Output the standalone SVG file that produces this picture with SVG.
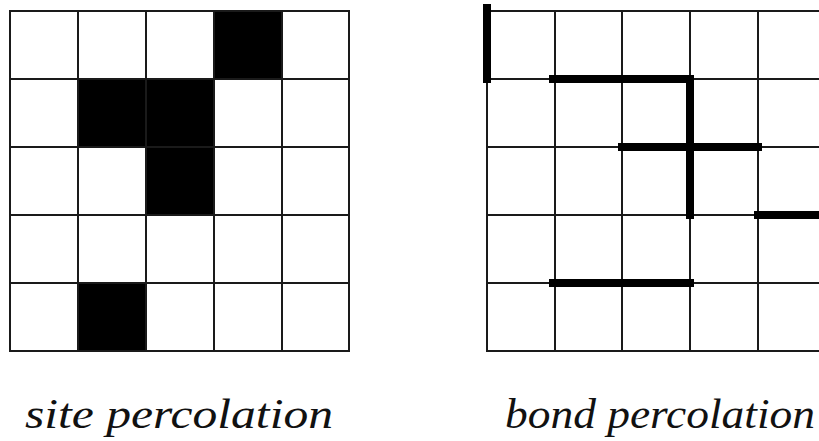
<svg xmlns="http://www.w3.org/2000/svg" width="819" height="441" viewBox="0 0 819 441">
<style>
.grid{fill:none;stroke:#1a1a1a;stroke-width:2}
.cell{fill:#000}
.bond{stroke:#000;stroke-width:8;stroke-linecap:square}
.lbl{font-family:"Liberation Serif",serif;font-style:italic;font-size:43px;fill:#111}
</style>
<rect width="819" height="441" fill="#fff"/>
<g id="site">
  <rect class="cell" x="214" y="11" width="68" height="68"/>
  <rect class="cell" x="78" y="79" width="136" height="68"/>
  <rect class="cell" x="146" y="147" width="68" height="68"/>
  <rect class="cell" x="78" y="283" width="68" height="68"/>
  <path class="grid" d="M10 11H349V351H10Z M78 11V351 M146 11V351 M214 11V351 M282 11V351 M10 79H349 M10 147H349 M10 215H349 M10 283H349"/>
  <text class="lbl" x="179" y="428" text-anchor="middle" textLength="308" lengthAdjust="spacingAndGlyphs">site percolation</text>
</g>
<g id="bond">
  <path class="grid" d="M487 11H830V351H487Z M555 11V351 M622 11V351 M690 11V351 M758 11V351 M487 79H830 M487 147H830 M487 215H830 M487 283H830"/>
  <text class="lbl" x="660" y="428" text-anchor="middle" textLength="310" lengthAdjust="spacingAndGlyphs">bond percolation</text>
</g>
<g id="connectors">
  <line class="bond" x1="487" y1="8" x2="487" y2="79"/>
  <line class="bond" x1="553" y1="79" x2="690" y2="79"/>
  <line class="bond" x1="690" y1="79" x2="690" y2="215"/>
  <line class="bond" x1="622" y1="147" x2="758" y2="147"/>
  <line class="bond" x1="758" y1="215" x2="830" y2="215"/>
  <line class="bond" x1="553" y1="283" x2="690" y2="283"/>
</g>
</svg>
